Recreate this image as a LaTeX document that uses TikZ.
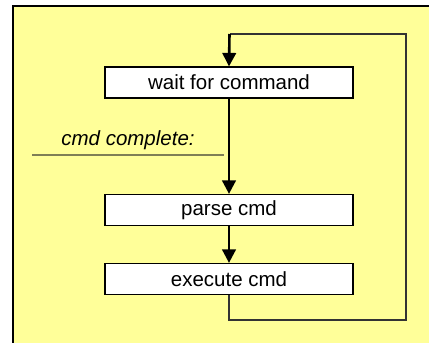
\documentclass[tikz,border=0pt]{standalone}
\usepackage{fontspec}
\setmainfont{Liberation Sans}
\usetikzlibrary{arrows.meta}
\definecolor{panel}{HTML}{FFFF99}
\definecolor{loopline}{HTML}{333333}
\definecolor{rule}{HTML}{7F7F55}
\tikzset{
  stepbox/.style={draw=black, line width=1.2pt, fill=white, minimum width=248pt,
    minimum height=31pt, inner sep=0pt, font=\fontsize{20.5}{23}\selectfont},
  flow/.style={line width=2.6pt, -{Triangle[width=13.5pt,length=13.5pt]}},
  back/.style={draw=loopline, line width=1.4pt},
}
\begin{document}
\begin{tikzpicture}[x=1pt,y=-1pt]
  \useasboundingbox (0,0) rectangle (429,343);
  \begin{scope}
    \clip (0,0) rectangle (429,343);
    \draw[line width=2.4pt, fill=panel] (13,6) rectangle (445,360);
  \end{scope}

  \node[stepbox] (wait) at (229,82.5) {wait for command};
  \node[stepbox] (parse) at (229,210) {parse cmd};
  \node[stepbox] (exec) at (229,279) {execute cmd};

  \node[font=\fontsize{20.5}{23}\selectfont\itshape] (lbl) at (128,140) {cmd complete:};
  \coordinate (r1) at (32,155);
  \coordinate (r2) at (224,155);
  \draw[draw=rule, line width=1.6pt] (r1) -- (r2);

  \draw[flow] (wait) -- (parse);
  \draw[flow] (parse) -- (exec);

  \coordinate (top) at (229.5,34);
  \draw[back] (exec.south) |- (406,320) |- (top);
  \draw[flow] (top) -- (wait.north);
\end{tikzpicture}
\end{document}
